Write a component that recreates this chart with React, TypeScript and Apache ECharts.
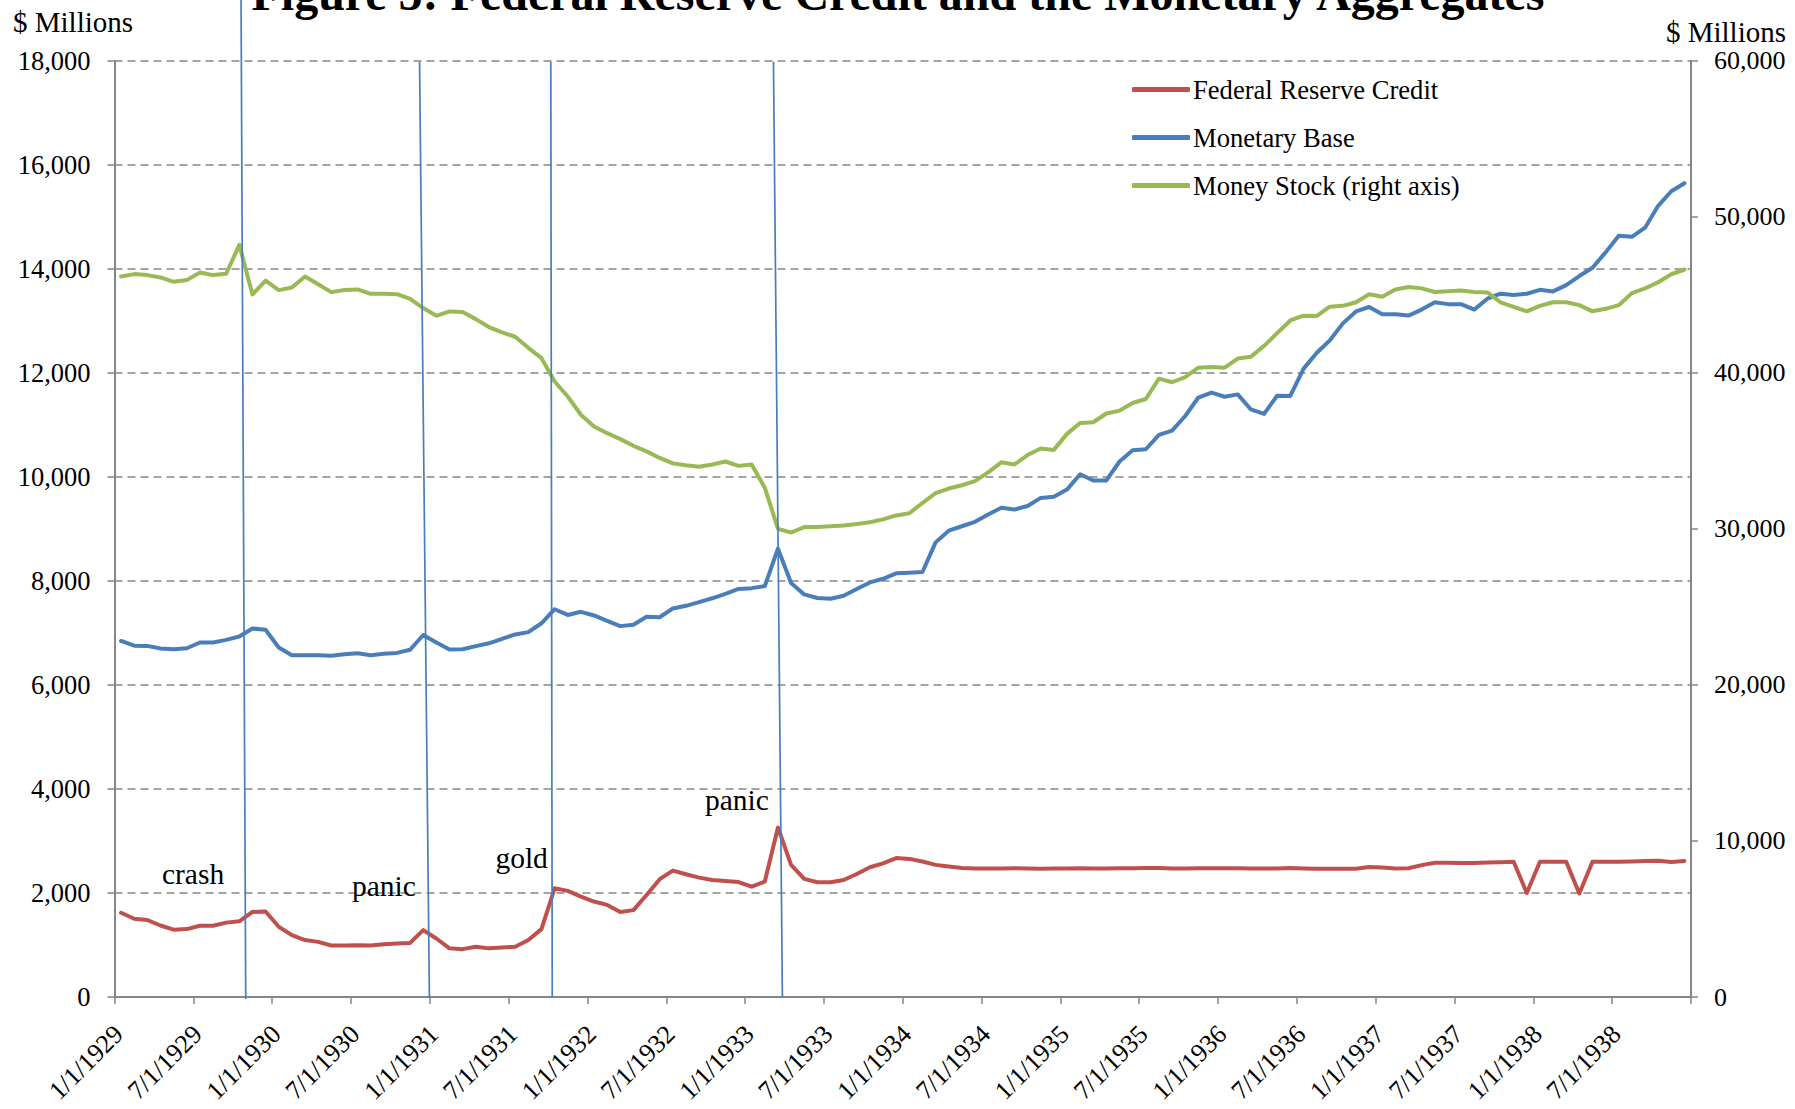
import React, { useEffect, useRef } from "react";
import * as echarts from "echarts";

// Monthly observations, January 1929 .. December 1938 (120 months)
const xTickLabels = [
  "1/1/1929", "7/1/1929", "1/1/1930", "7/1/1930", "1/1/1931", "7/1/1931",
  "1/1/1932", "7/1/1932", "1/1/1933", "7/1/1933", "1/1/1934", "7/1/1934",
  "1/1/1935", "7/1/1935", "1/1/1936", "7/1/1936", "1/1/1937", "7/1/1937",
  "1/1/1938", "7/1/1938",
];

const fedReserveCredit = [
  1620, 1505, 1480, 1375, 1295, 1305, 1370, 1370, 1430, 1455,
  1635, 1645, 1350, 1190, 1095, 1060, 990, 990, 995, 990,
  1015, 1030, 1040, 1285, 1125, 935, 920, 965, 935, 950,
  965, 1095, 1305, 2090, 2040, 1930, 1835, 1770, 1635, 1670,
  1960, 2265, 2430, 2360, 2295, 2250, 2230, 2210, 2120, 2220,
  3260, 2540, 2270, 2205, 2205, 2250, 2365, 2495, 2570, 2670,
  2655, 2605, 2540, 2510, 2480, 2470, 2470, 2470, 2475, 2470,
  2465, 2470, 2470, 2475, 2470, 2470, 2475, 2475, 2480, 2480,
  2470, 2470, 2475, 2475, 2475, 2475, 2470, 2470, 2470, 2480,
  2470, 2465, 2465, 2465, 2465, 2500, 2490, 2470, 2475, 2535,
  2580, 2580, 2575, 2575, 2585, 2590, 2600, 2000, 2600, 2600,
  2600, 1990, 2600, 2600, 2600, 2605, 2615, 2620, 2595, 2615,
];

const monetaryBase = [
  6845, 6755, 6750, 6700, 6685, 6705, 6815, 6815, 6865, 6930,
  7085, 7060, 6720, 6570, 6570, 6570, 6560, 6590, 6610, 6570,
  6600, 6615, 6675, 6960, 6815, 6680, 6685, 6745, 6800, 6885,
  6970, 7015, 7185, 7455, 7345, 7405, 7335, 7230, 7130, 7155,
  7310, 7300, 7470, 7520, 7590, 7665, 7750, 7845, 7860, 7900,
  8620, 7960, 7740, 7670, 7655, 7715, 7845, 7970, 8040, 8145,
  8155, 8170, 8740, 8965, 9050, 9135, 9275, 9405, 9370, 9440,
  9595, 9615, 9755, 10050, 9930, 9930, 10295, 10510, 10530, 10805,
  10890, 11170, 11525, 11620, 11540, 11585, 11295, 11210, 11560, 11555,
  12075, 12380, 12620, 12950, 13180, 13265, 13125, 13125, 13100, 13215,
  13355, 13320, 13320, 13215, 13425, 13520, 13495, 13520, 13595, 13565,
  13685, 13860, 14020, 14315, 14635, 14615, 14790, 15210, 15490, 15645,
];

const moneyStock = [
  46175, 46325, 46260, 46110, 45830, 45940, 46430, 46260, 46350, 48200,
  45020, 45900, 45300, 45470, 46175, 45680, 45170, 45300, 45340, 45060,
  45060, 45040, 44740, 44150, 43650, 43930, 43890, 43440, 42930, 42590,
  42310, 41600, 40940, 39440, 38480, 37310, 36560, 36130, 35750, 35320,
  34965, 34545, 34195, 34080, 33985, 34125, 34315, 34035, 34125, 32635,
  30000, 29765, 30115, 30115, 30165, 30210, 30305, 30420, 30605, 30860,
  31000, 31655, 32285, 32585, 32795, 33055, 33615, 34265, 34125, 34730,
  35150, 35060, 36085, 36785, 36830, 37390, 37575, 38065, 38320, 39625,
  39395, 39720, 40325, 40375, 40325, 40910, 41025, 41725, 42540, 43355,
  43660, 43635, 44240, 44290, 44520, 45035, 44870, 45340, 45500, 45410,
  45175, 45220, 45270, 45175, 45150, 44520, 44220, 43940, 44290, 44520,
  44520, 44335, 43940, 44100, 44335, 45105, 45410, 45805, 46315, 46620,
];

const seriesNames = ["Federal Reserve Credit", "Monetary Base", "Money Stock (right axis)"];
const seriesColors = ["#c0504d", "#4a7ebb", "#98b954"];

// event marker lines, in (month index, left-axis $ millions) coordinates
const eventLines = [
  { from: [9.63, 19300], to: [9.99, -40] },
  { from: [23.22, 17980], to: [23.97, -20] },
  { from: [33.21, 17980], to: [33.32, 0] },
  { from: [50.16, 17980], to: [50.84, 0] },
];
const eventLabels = [
  { text: "crash", at: [5.98, 2356] },
  { text: "panic", at: [20.51, 2142] },
  { text: "gold", at: [30.99, 2665] },
  { text: "panic", at: [47.38, 3788] },
];

const FONT = "'Liberation Serif', 'Times New Roman', serif";
const GRAY = "#868686";

export default function App() {
  const ref = useRef<HTMLDivElement>(null);

  useEffect(() => {
    const chart = echarts.init(ref.current!, null, { renderer: "svg" });
    const toPoints = (arr: number[]) => arr.map((v, i) => [i + 0.5, v]);

    const option: any = {
      animation: false,
      backgroundColor: "#ffffff",
      grid: { left: 114.5, right: 104, top: 60.7, bottom: 112, containLabel: false },
      xAxis: {
        type: "value",
        min: 0,
        max: 120,
        interval: 6,
        axisLine: { show: true, lineStyle: { color: GRAY, width: 2 } },
        axisTick: { show: true, length: 7, lineStyle: { color: GRAY, width: 1.5 } },
        splitLine: { show: false },
        axisLabel: {
          rotate: 45,
          margin: 37,
          padding: [0, -6, 0, 0],
          showMinLabel: true,
          showMaxLabel: true,
          color: "#000",
          fontFamily: FONT,
          fontSize: 26,
          formatter: (v: number) => xTickLabels[Math.round(v / 6)] ?? "",
        },
      },
      yAxis: [
        {
          type: "value",
          min: 0,
          max: 18000,
          interval: 2000,
          axisLine: { show: true, lineStyle: { color: GRAY, width: 2 } },
          axisTick: { show: true, length: 7, lineStyle: { color: GRAY, width: 1.5 } },
          splitLine: { show: true, lineStyle: { color: GRAY, width: 1.6, type: [8, 5] } },
          axisLabel: {
            margin: 24,
            color: "#000",
            fontFamily: FONT,
            fontSize: 26.5,
            formatter: (v: number) => v.toLocaleString("en-US"),
          },
        },
        {
          type: "value",
          min: 0,
          max: 60000,
          interval: 10000,
          position: "right",
          axisLine: { show: true, lineStyle: { color: GRAY, width: 2 } },
          axisTick: { show: true, length: 7, lineStyle: { color: GRAY, width: 1.5 } },
          splitLine: { show: false },
          axisLabel: {
            margin: 23,
            color: "#000",
            fontFamily: FONT,
            fontSize: 26,
            formatter: (v: number) => v.toLocaleString("en-US"),
          },
        },
      ],
      legend: {
        orient: "vertical",
        left: 1127,
        top: 71,
        itemWidth: 58,
        itemHeight: 5,
        itemGap: 21,
        icon: "roundRect",
        textStyle: { fontFamily: FONT, fontSize: 26.6, color: "#000", padding: [0, 0, 0, -2] },
        data: seriesNames,
      },
      series: [
        {
          name: seriesNames[0],
          type: "line",
          yAxisIndex: 0,
          data: toPoints(fedReserveCredit),
          showSymbol: false,
          symbol: "none",
          color: seriesColors[0],
          lineStyle: { width: 4, color: seriesColors[0], cap: "round", join: "round" },
          z: 3,
        },
        {
          name: seriesNames[1],
          type: "line",
          yAxisIndex: 0,
          data: toPoints(monetaryBase),
          showSymbol: false,
          symbol: "none",
          color: seriesColors[1],
          lineStyle: { width: 4, color: seriesColors[1], cap: "round", join: "round" },
          z: 3,
        },
        {
          name: seriesNames[2],
          type: "line",
          yAxisIndex: 1,
          data: toPoints(moneyStock),
          showSymbol: false,
          symbol: "none",
          color: seriesColors[2],
          lineStyle: { width: 4, color: seriesColors[2], cap: "round", join: "round" },
          z: 3,
        },
      ],
    };
    chart.setOption(option);

    const px = (p: number[]) =>
      chart.convertToPixel({ xAxisIndex: 0, yAxisIndex: 0 }, p) as number[];

    const graphics: any[] = [
      {
        type: "text",
        x: 898,
        y: -7,
        z: 100,
        style: {
          text: "Figure 5: Federal Reserve Credit and the Monetary Aggregates",
          fill: "#000",
          fontFamily: FONT,
          fontWeight: "bold",
          fontSize: 48,
          align: "center",
          verticalAlign: "middle",
        },
      },
      {
        type: "text",
        x: 13,
        y: 22,
        z: 100,
        style: {
          text: "$ Millions",
          fill: "#000",
          fontFamily: FONT,
          fontSize: 29,
          align: "left",
          verticalAlign: "middle",
        },
      },
      {
        type: "text",
        x: 1786,
        y: 32,
        z: 100,
        style: {
          text: "$ Millions",
          fill: "#000",
          fontFamily: FONT,
          fontSize: 29,
          align: "right",
          verticalAlign: "middle",
        },
      },
    ];
    eventLines.forEach((l) => {
      const a = px(l.from);
      const b = px(l.to);
      graphics.push({
        type: "line",
        z: 100,
        silent: true,
        shape: { x1: a[0], y1: a[1], x2: b[0], y2: b[1] },
        style: { stroke: "#4a7ebb", lineWidth: 1.7 },
      });
    });
    eventLabels.forEach((t) => {
      const p = px(t.at);
      graphics.push({
        type: "text",
        x: p[0],
        y: p[1],
        z: 100,
        style: {
          text: t.text,
          fill: "#000",
          fontFamily: FONT,
          fontSize: 29.5,
          align: "center",
          verticalAlign: "middle",
        },
      });
    });
    chart.setOption({ graphic: graphics });

    return () => chart.dispose();
  }, []);

  return (
    <div
      ref={ref}
      style={{ position: "absolute", left: 0, top: 0, width: 1795, height: 1109 }}
    />
  );
}
